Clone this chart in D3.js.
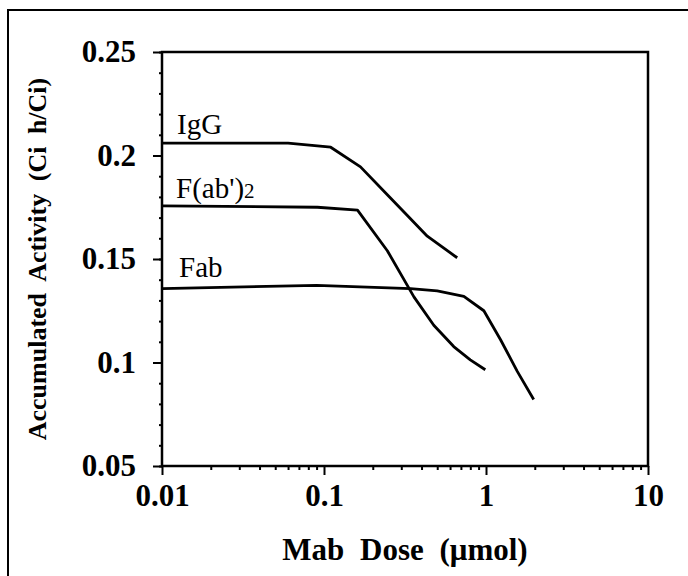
<!DOCTYPE html>
<html>
<head>
<meta charset="utf-8">
<script src="https://cdn.jsdelivr.net/npm/d3@7"></script>
<style>
  body { margin: 0; background: #fff; }
  text { font-family: "Liberation Serif", "Times New Roman", serif; }
</style>
</head>
<body>
<div id="canvas"></div>
<script>
"use strict"

/* data */
let igDose   = [0.01, 0.06, 0.11, 0.168, 0.246, 0.327, 0.434, 0.664];
let igAct    = [0.206, 0.206, 0.204, 0.1945, 0.181, 0.171, 0.161, 0.1506];
let fab2Dose = [0.01, 0.091, 0.161, 0.246, 0.359, 0.476, 0.632, 0.80, 0.99];
let fab2Act  = [0.1757, 0.175, 0.1736, 0.154, 0.1317, 0.118, 0.1077, 0.1013, 0.0965];
let fabDose  = [0.01, 0.09, 0.342, 0.5, 0.73, 0.97, 1.23, 1.56, 1.97];
let fabAct   = [0.1357, 0.1373, 0.1357, 0.1346, 0.132, 0.125, 0.111, 0.0957, 0.0821];
let xTicks   = [0.01, 0.1, 1, 10];
let xLabels  = ["0.01", "0.1", "1", "10"];
let yTicks   = [0.05, 0.1, 0.15, 0.2, 0.25];
let yLabels  = ["0.05", "0.1", "0.15", "0.2", "0.25"];

let drawing = d3.select("#canvas")
    .append("svg")
    .attr("width", 688)
    .attr("height", 576);

/* outer frame: only top and left edges show in the picture */
drawing.append("path")
    .attr("d", "M8,576 L8,10 L688,10")
    .attr("fill", "none")
    .attr("stroke", "black")
    .attr("stroke-width", 2);

let plotLeft = 162, plotRight = 648, plotTop = 52, plotBottom = 466;

let x = d3.scaleLog().domain([0.01, 10]).range([plotLeft, plotRight]);
let y = d3.scaleLinear().domain([0.05, 0.25]).range([plotBottom, plotTop]);

/* plot box */
drawing.append("rect")
    .attr("x", plotLeft).attr("y", plotTop)
    .attr("width", plotRight - plotLeft).attr("height", plotBottom - plotTop)
    .attr("fill", "none")
    .attr("stroke", "black")
    .attr("stroke-width", 2.5);

/* x axis: minor ticks and major ticks pointing down */
let xMinor = [];
[0.01, 0.1, 1].forEach(d => { for (let k = 2; k <= 9; k++) xMinor.push(d * k); });

let xAxisMinor = d3.axisBottom(x).tickValues(xMinor).tickSize(4).tickFormat("");
let xAxisMajor = d3.axisBottom(x).tickValues(xTicks).tickSize(9).tickPadding(9)
    .tickFormat((d, i) => xLabels[i]);

drawing.append("g").attr("transform", `translate(0,${plotBottom})`).call(xAxisMinor);
let gx = drawing.append("g").attr("transform", `translate(0,${plotBottom})`).call(xAxisMajor);

/* y axis: minor ticks every 0.01 and major ticks pointing left */
let yMinor = d3.range(5, 26).map(d => d / 100);
let yAxisMinor = d3.axisLeft(y).tickValues(yMinor).tickSize(3).tickFormat("");
let yAxisMajor = d3.axisLeft(y).tickValues(yTicks).tickSize(9).tickPadding(17)
    .tickFormat((d, i) => yLabels[i]);

drawing.append("g").attr("transform", `translate(${plotLeft},0)`).call(yAxisMinor);
let gy = drawing.append("g").attr("transform", `translate(${plotLeft},0)`).call(yAxisMajor);

drawing.selectAll(".domain").remove();
drawing.selectAll(".tick line").attr("stroke", "black").attr("stroke-width", 2);

gx.selectAll(".tick text")
    .attr("font-family", "Liberation Serif")
    .attr("font-size", 31)
    .attr("font-weight", "bold")
    .attr("fill", "black");

gy.selectAll(".tick text")
    .attr("font-family", "Liberation Serif")
    .attr("font-size", 31)
    .attr("font-weight", "bold")
    .attr("fill", "black");

/* curves */
let line = d3.line()
    .x(d => x(d[0]))
    .y(d => y(d[1]));

let igData = igDose.map((d, i) => [d, igAct[i]]);
let fab2Data = fab2Dose.map((d, i) => [d, fab2Act[i]]);
let fabData = fabDose.map((d, i) => [d, fabAct[i]]);

[igData, fab2Data, fabData].forEach(s => {
    drawing.append("path")
        .attr("d", line(s))
        .attr("fill", "none")
        .attr("stroke", "black")
        .attr("stroke-width", 2.8)
        .attr("stroke-linejoin", "round");
});

/* curve labels */
let igLabel = drawing.append("text")
    .attr("x", x(0.01) + 15)
    .attr("y", y(igAct[0]) - 9)
    .attr("font-size", 29)
    .text("IgG");

let fab2Label = drawing.append("text")
    .attr("x", x(0.01) + 14)
    .attr("y", y(fab2Act[0]) - 8)
    .attr("font-size", 29)
    .text("F(ab')");
fab2Label.append("tspan")
    .attr("font-size", 21)
    .text("2");

let fabLabel = drawing.append("text")
    .attr("x", x(0.01) + 17)
    .attr("y", y(fabAct[0]) - 12)
    .attr("font-size", 29)
    .text("Fab");

/* axis titles */
drawing.append("text")
    .attr("x", (plotLeft + plotRight) / 2)
    .attr("y", 560)
    .attr("text-anchor", "middle")
    .attr("font-size", 31)
    .attr("font-weight", "bold")
    .attr("word-spacing", 8)
    .text("Mab Dose (\u03bcmol)");

drawing.append("text")
    .attr("transform", `translate(46,${(plotTop + plotBottom) / 2}) rotate(-90)`)
    .attr("text-anchor", "middle")
    .attr("font-size", 26)
    .attr("font-weight", "bold")
    .attr("word-spacing", 6)
    .text("Accumulated Activity (Ci h/Ci)");
</script>
</body>
</html>
